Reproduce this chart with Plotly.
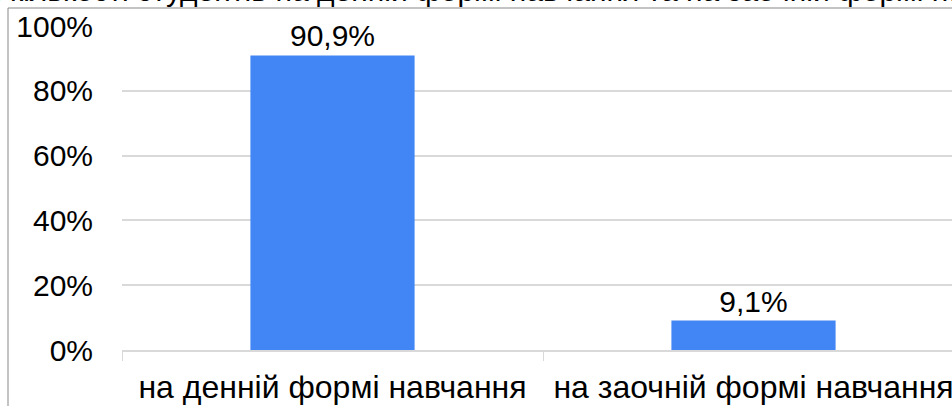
import plotly.graph_objects as go

categories = ['на денній формі навчання', 'на заочній формі навчання']
shares = [0.909, 0.091]
title_text = 'Розподіл кількості студентів на денній формі навчання та на заочній формі навчання'

FONT = dict(family='Liberation Sans, Arial, sans-serif', color='#000000', size=30)
GRID = '#D9D9D9'

W, H = 952, 406
L, T, B = 122, 26, 56
plot_w, plot_h = W - L, H - T - B

fig = go.Figure(go.Bar(
    x=categories, y=shares,
    marker=dict(color='#4285F4', line=dict(width=0)),
    texttemplate='%{y:.1%}', textposition='outside',
    textfont=dict(size=30, color='#000000'),
    cliponaxis=False,
))

# outer chart frame (top-left corner only visible)
fig.add_shape(type='rect', xref='paper', yref='paper',
              x0=(8 - L) / plot_w, x1=1.2, y0=-0.5, y1=1 + (T - 8) / plot_h,
              line=dict(color='#878787', width=1), layer='below')

# title, mostly cut off by the top of the image
fig.add_annotation(text=title_text, xref='paper', yref='paper',
                   x=(470 - L) / plot_w, y=1 + (T - 8) / plot_h,
                   xanchor='center', yanchor='bottom', showarrow=False,
                   font=dict(size=30, color='#000000'), borderpad=0)

fig.update_layout(
    width=W, height=H,
    margin=dict(l=L, r=0, t=T, b=B, pad=0, autoexpand=False),
    paper_bgcolor='white', plot_bgcolor='white',
    font=FONT, separators=', ',
    bargap=0.61, showlegend=False,
    xaxis=dict(range=[-0.5, 1.5 - 12 / 421], showline=True, linecolor=GRID,
               linewidth=2, ticks='outside', tickson='boundaries',
               tickcolor=GRID, ticklen=9, tickwidth=1, showgrid=False,
               automargin=False, ticklabelstandoff=8,
               tickfont=dict(size=32)),
    yaxis=dict(range=[0, 1], tickvals=[0, 0.2, 0.4, 0.6, 0.8, 1.0],
               tickformat='.0%', showgrid=True, gridcolor=GRID, gridwidth=2,
               zeroline=False, showline=False, ticks='', automargin=False,
               ticklabelstandoff=28, tickfont=dict(size=30)),
)

# drop the browser's default 8px body margin so the figure fills the window
fig.write_html('out.html', config={'displayModeBar': False},
               post_script="document.body.style.margin='0';")
